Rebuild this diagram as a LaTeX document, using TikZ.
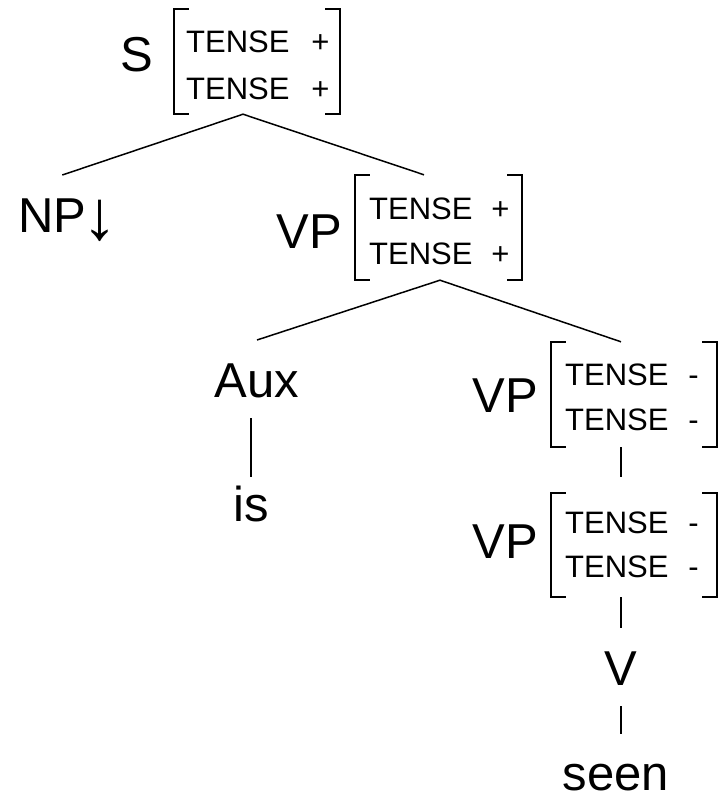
\documentclass[tikz,border=0pt]{standalone}
\usepackage{fontspec}
\setmainfont{Liberation Sans}
\begin{document}
\begin{tikzpicture}[x=1pt,y=-1pt,
  cat/.style={font=\fontsize{49}{49}\selectfont, inner sep=0pt, text height=36pt,
              text depth=0pt, outer ysep=21pt},
  feat/.style={font=\fontsize{31}{31}\selectfont, inner sep=0pt, anchor=base west},
  val/.style={font=\fontsize{31}{31}\selectfont, inner sep=0pt, anchor=base},
  avm/.style={inner sep=0pt, minimum width=166pt, minimum height=105pt},
  edge/.style={line width=1.5pt},
  brk/.style={line width=1.5pt}]
\useasboundingbox (0,0) rectangle (718,795);

% square brackets around a feature matrix
\newcommand\avmbrackets[1]{%
  \draw[brk] ([xshift=15pt]#1.north west) -| (#1.south west) -- ++(15,0);
  \draw[brk] ([xshift=-15pt]#1.north east) -| (#1.south east) -- ++(-15,0);}

% S with its feature matrix
\node[cat, anchor=base] (S) at (137,71) {S};
\node[avm] (avmS) at (257,61.5) {};
\avmbrackets{avmS}
\node[feat] (sf1) at (186,52) {TENSE};
\node[val]  (sv1) at (320.5,52) {+};
\node[feat] (sf2) at (186,99) {TENSE};
\node[val]  (sv2) at (320.5,99) {+};

% NP substitution site
\node[cat, anchor=base west] (NP) at (18.3,232)
  {NP\kern-4pt\raisebox{-7pt}{\fontsize{70}{70}\selectfont ↓}};

% upper VP
\node[cat, anchor=base] (VPa) at (309,248) {VP};
\node[avm, minimum width=167pt] (avmVPa) at (438.5,227.5) {};
\avmbrackets{avmVPa}
\node[feat] (af1) at (369,219) {TENSE};
\node[val]  (av1) at (500.5,219) {+};
\node[feat] (af2) at (369,264) {TENSE};
\node[val]  (av2) at (500.5,264) {+};

% auxiliary
\node[cat, anchor=base] (Aux) at (257,397) {Aux};
\node[cat, anchor=base] (is) at (251,521) {is};

% middle VP
\node[cat, anchor=base] (VPb) at (505,412) {VP};
\node[avm] (avmVPb) at (634,394.5) {};
\avmbrackets{avmVPb}
\node[feat] (bf1) at (565,385) {TENSE};
\node[val]  (bv1) at (693.5,385) {-};
\node[feat] (bf2) at (565,430) {TENSE};
\node[val]  (bv2) at (693.5,430) {-};

% lower VP
\node[cat, anchor=base] (VPc) at (505,558) {VP};
\node[avm, minimum height=104pt] (avmVPc) at (634,545) {};
\avmbrackets{avmVPc}
\node[feat] (cf1) at (565,533) {TENSE};
\node[val]  (cv1) at (693.5,533) {-};
\node[feat] (cf2) at (565,577) {TENSE};
\node[val]  (cv2) at (693.5,577) {-};

% verb and its word
\node[cat, anchor=base] (V) at (621,685) {V};
\node[cat, anchor=base, outer ysep=0pt, text depth=1pt] (seen) at (616,790.5) {seen};

% branches
\draw[edge] ([xshift=-14pt]avmS.south) -- ([xshift=44pt]NP.north west);
\draw[edge] ([xshift=-14pt]avmS.south) -- ([xshift=-14.5pt]avmVPa.north);
\draw[edge] ([xshift=1.5pt]avmVPa.south) -- (Aux.north);
\draw[edge] ([xshift=1.5pt]avmVPa.south) -- ([xshift=-13pt]avmVPb.north);
\draw[edge] (Aux.south -| is.north) -- ([yshift=-13pt]is.north);
\draw[edge] ([xshift=-13pt]avmVPb.south) -- ([xshift=-13pt,yshift=16pt]avmVPc.north);
\draw[edge] ([xshift=-13pt]avmVPc.south) -- (V.north);
\draw[edge] (V.south) -- ([yshift=21pt]V.south |- seen.north);
\end{tikzpicture}
\end{document}
